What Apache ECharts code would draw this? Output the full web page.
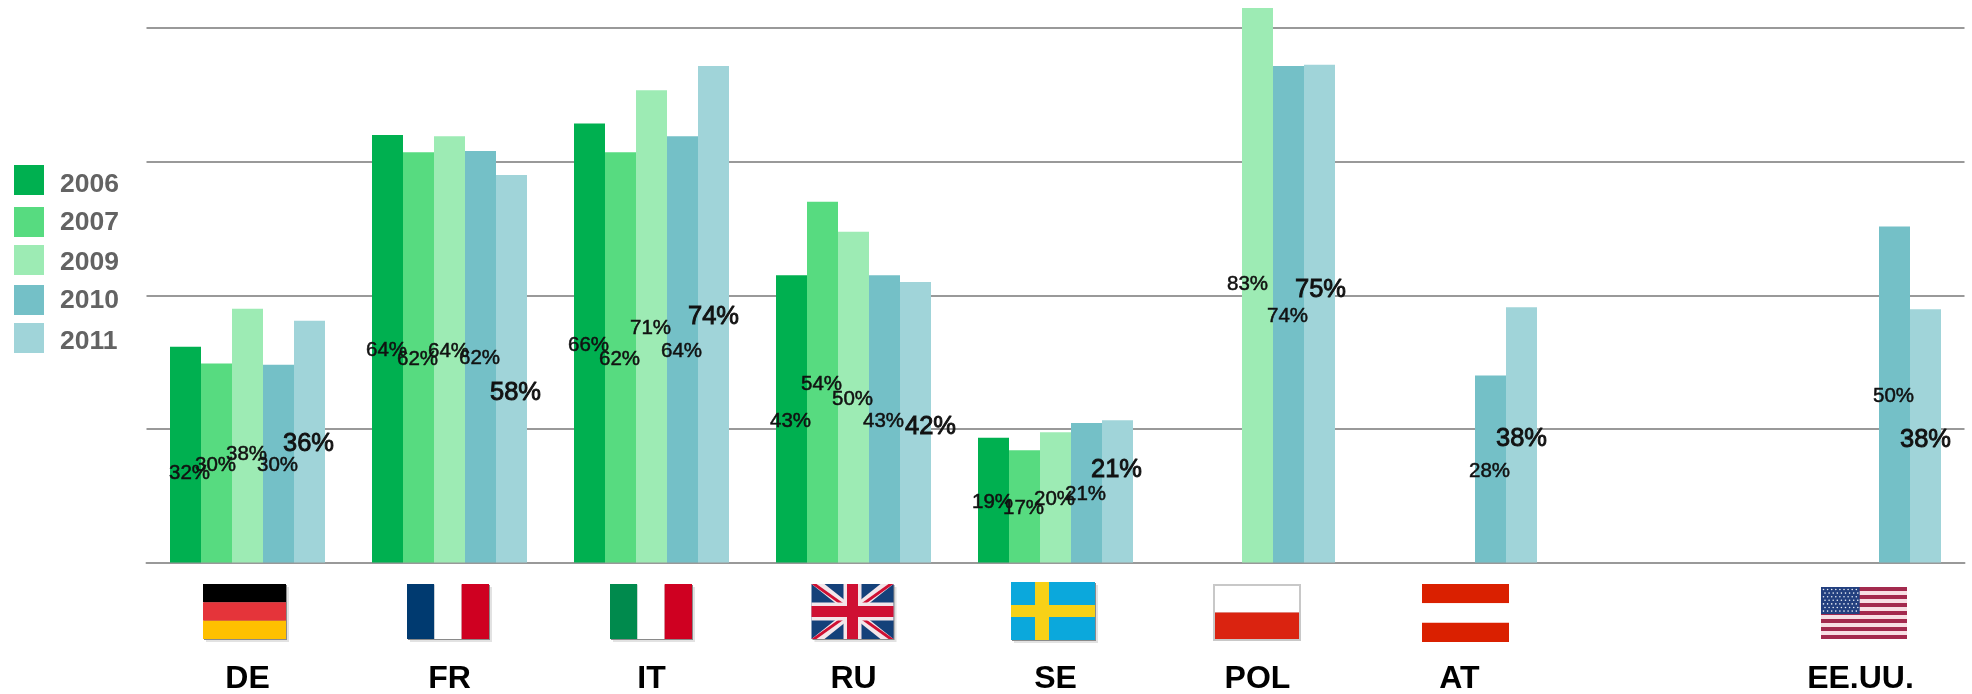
<!DOCTYPE html>
<html>
<head>
<meta charset="utf-8">
<title>Chart</title>
<style>
  html, body { margin: 0; padding: 0; background: #fff; }
  #chart { width: 1972px; height: 694px; }
</style>
</head>
<body>
<div id="chart"></div>
<script src="https://cdn.jsdelivr.net/npm/echarts@6/dist/echarts.min.js"></script>
<script>
// the empty category keeps the gap between AT and EE.UU.
const categories = ["DE", "FR", "IT", "RU", "SE", "POL", "AT", "", "EE.UU."];
const years = ["2006", "2007", "2009", "2010", "2011"];
const yTicks = [0, 20, 40, 60, 80];

// bar heights
const values2006 = [32.3, 64, 65.7, 43, 18.7, null, null, null, null];
const values2007 = [29.8, 61.4, 61.4, 54, 16.8, null, null, null, null];
const values2009 = [38, 63.8, 70.7, 49.5, 19.5, 83, null, null, null];
const values2010 = [29.6, 61.6, 63.8, 43, 20.9, 74.3, 28, null, 50.3];
const values2011 = [36.2, 58, 74.3, 42, 21.3, 74.5, 38.2, null, 37.9];

// printed labels do not always agree with the bar height
const labels2006 = ["32%", "64%", "66%", "43%", "19%", "", "", "", ""];
const labels2007 = ["30%", "62%", "62%", "54%", "17%", "", "", "", ""];
const labels2009 = ["38%", "64%", "71%", "50%", "20%", "83%", "", "", ""];
const labels2010 = ["30%", "62%", "64%", "43%", "21%", "74%", "28%", "", "50%"];
const labels2011 = ["36%", "58%", "74%", "42%", "21%", "75%", "38%", "", "38%"];

const allValues = [values2006, values2007, values2009, values2010, values2011];
const allLabels = [labels2006, labels2007, labels2009, labels2010, labels2011];
const colors = ["#00b050", "#57db80", "#9debb4", "#74c0c7", "#a0d4d9"];

// hand placed labels: "series,category": [dx, dy]
const labelShift = {
  "0,0": [4, 19],
  "2,0": [-1, 19],
  "2,5": [-10, -1],
  "4,1": [4, 24],
  "4,2": [0, 3],
  "4,3": [15, 5],
  "4,4": [-1, -21],
  "4,5": [1, -24],
  "4,6": [0, 4],
  "4,8": [0, 4],
};
const legendTops = [165, 207, 245, 285, 323];
const legendTextDrop = [5, 1, 3, 1, 4];

function rect(x, y, w, h, fill) {
  return { type: "rect", shape: { x, y, width: w, height: h }, style: { fill } };
}
function poly(points, fill) {
  return { type: "polygon", shape: { points }, style: { fill } };
}
function shadow(x, y, w, h) {
  return [rect(x + 3, y + 3, w, h, "#e2e2e2"), rect(x + 1, y + 1, w, h, "#8a8a8a")];
}

function stripes3h(x, y, w, h, c) {
  return [...shadow(x, y, w, h), rect(x, y, w, h / 3, c[0]), rect(x, y + h / 3, w, h / 3, c[1]), rect(x, y + (2 * h) / 3, w, h / 3, c[2])];
}
function stripes3v(x, y, w, h, c) {
  return [...shadow(x, y, w, h), rect(x, y, w / 3, h, c[0]), rect(x + w / 3, y, w / 3, h, c[1]), rect(x + (2 * w) / 3, y, w / 3, h, c[2])];
}
function ukFlag(x, y, w, h) {
  const diag = (t, c) => [
    poly([[x, y], [x + t, y], [x + w, y + h], [x + w - t, y + h]], c),
    poly([[x + w, y], [x + w - t, y], [x, y + h], [x + t, y + h]], c),
  ];
  return [
    ...shadow(x, y, w, h),
    rect(x, y, w, h, "#14417a"),
    ...diag(13, "#f3e6ea"),
    ...diag(5, "#cf1033"),
    rect(x + w / 2 - 9, y, 18, h, "#f3e6ea"),
    rect(x, y + h / 2 - 9, w, 18, "#f3e6ea"),
    rect(x + w / 2 - 5.5, y, 11, h, "#cf1033"),
    rect(x, y + h / 2 - 5.5, w, 11, "#cf1033"),
  ];
}
function seFlag(x, y, w, h) {
  return [
    ...shadow(x, y, w, h),
    rect(x, y, w, h, "#0ba8dc"),
    rect(x + 24, y, 14, h, "#f7d117"),
    rect(x, y + h / 2 - 6, w, 12, "#f7d117"),
  ];
}
function plFlag(x, y, w, h) {
  return [
    rect(x, y, w, h, "#c8c8c8"),
    rect(x + 2, y + 2, w - 4, h / 2 - 2, "#fff"),
    rect(x + 2, y + h / 2, w - 4, h / 2 - 2, "#da2310"),
  ];
}
function usFlag(x, y, w, h) {
  const out = [rect(x, y, w, h, "#f7dfe4")];
  for (let i = 0; i < 7; i++) {
    out.push(rect(x, y + (i * 2 * h) / 13, w, h / 13, "#a32a4e"));
  }
  const cw = w * 0.45;
  const ch = h * 0.52;
  out.push(rect(x, y, cw, ch, "#23407f"));
  for (let r = 0; r < 7; r++) {
    for (let c = 0; c < 9; c++) {
      out.push({
        type: "circle",
        shape: { cx: x + 2.5 + c * 4.1 + (r % 2) * 1.5, cy: y + 2.5 + r * 3.6, r: 0.8 },
        style: { fill: "#e8edf5" },
      });
    }
  }
  return out;
}

const flags = [
  ...stripes3h(203, 584, 83, 55, ["#000000", "#e5343a", "#ffc000"]),
  ...stripes3v(407, 584, 82, 55, ["#003a70", "#ffffff", "#cf0021"]),
  ...stripes3v(610, 584, 82, 55, ["#008a4d", "#ffffff", "#cf0021"]),
  ...ukFlag(811.5, 584, 82, 55),
  ...seFlag(1011, 582, 84, 58),
  ...plFlag(1213, 584, 88, 57),
  // AT has no shadow, so drop the two shadow rects
  ...stripes3h(1422, 584, 87, 58, ["#da2000", "#ffffff", "#da2000"]).slice(2),
  ...usFlag(1821, 587, 86, 52),
];

const chart = echarts.init(document.getElementById("chart"));
chart.setOption({
  animation: false,
  backgroundColor: "#fff",
  textStyle: { fontFamily: "Liberation Sans" },
  // the labels sit low, v6 would otherwise shrink the grid to fit them
  grid: { left: 146.5, top: 28, width: 1818, height: 534.6, outerBoundsMode: "none" },
  legend: years.map((y, i) => ({
    data: [y],
    left: 14,
    top: legendTops[i],
    padding: 0,
    itemWidth: 30,
    itemHeight: 30,
    icon: "rect",
    selectedMode: false,
    formatter: "{t|{name}}",
    textStyle: {
      rich: {
        t: {
          fontFamily: "Liberation Sans",
          fontSize: 26.5,
          fontWeight: "bold",
          color: "#636363",
          padding: [legendTextDrop[i] * 2, 0, 0, 11],
        },
      },
    },
  })),
  xAxis: {
    type: "category",
    // EE.UU. sits a little left of its slot in the original
    data: categories.map((c) => (c === "EE.UU." ? { value: c, textStyle: { padding: [0, 6, 0, 0] } } : c)),
    axisTick: { show: false },
    axisLine: { lineStyle: { color: "#999", width: 2 } },
    axisLabel: {
      interval: 0,
      margin: 101,
      fontSize: 32,
      fontWeight: "bold",
      color: "#000",
    },
  },
  yAxis: {
    type: "value",
    min: yTicks[0],
    max: yTicks[yTicks.length - 1],
    interval: 20,
    axisLabel: { show: false },
    axisLine: { show: false },
    axisTick: { show: false },
    splitLine: { lineStyle: { color: "#999", width: 2 } },
  },
  series: years.map((y, s) => ({
    name: y,
    type: "bar",
    clip: false, // POL 2009 goes above the top line
    barWidth: 31,
    barGap: 0,
    itemStyle: { color: colors[s] },
    label: {
      show: true,
      position: "inside",
      color: "#111",
      fontSize: s === 4 ? 25.5 : 20.5,
      textBorderColor: "#111",
      textBorderWidth: s === 4 ? 0.9 : 0.5,
      offset: [-1, 2],
      formatter: (p) => allLabels[s][p.dataIndex],
    },
    data: allValues[s].map((v, c) => {
      const shift = labelShift[s + "," + c];
      return shift ? { value: v, label: { offset: shift } } : v;
    }),
  })),
  graphic: { elements: [{ type: "group", silent: true, children: flags }] },
});
</script>
</body>
</html>
